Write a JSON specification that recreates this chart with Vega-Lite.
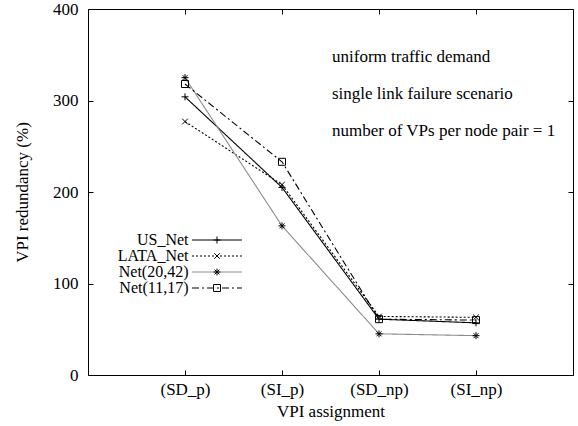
{
  "$schema": "https://vega.github.io/schema/vega-lite/v6.json",
  "width": 485,
  "height": 366,
  "autosize": {"type": "none"},
  "padding": {"left": 88, "top": 9, "right": 5, "bottom": 51},
  "background": "white",
  "config": {
    "view": {"stroke": "black", "strokeWidth": 1},
    "font": "Liberation Serif",
    "axis": {
      "grid": false,
      "domain": false,
      "ticks": true,
      "tickColor": "black",
      "tickSize": -5,
      "tickWidth": 1,
      "labelFont": "Liberation Serif",
      "labelFontSize": 17,
      "labelColor": "black",
      "titleFont": "Liberation Serif",
      "titleFontSize": 17,
      "titleFontWeight": "normal",
      "titleColor": "black"
    },
    "legend": {
      "labelFont": "Liberation Serif",
      "labelFontSize": 16,
      "labelColor": "black",
      "padding": 0,
      "rowPadding": -0.3
    }
  },
  "data": {
    "values": [
      {"net": "US_Net", "cat": "(SD_p)", "value": 304},
      {"net": "US_Net", "cat": "(SI_p)", "value": 205},
      {"net": "US_Net", "cat": "(SD_np)", "value": 61},
      {"net": "US_Net", "cat": "(SI_np)", "value": 57},
      {"net": "LATA_Net", "cat": "(SD_p)", "value": 277},
      {"net": "LATA_Net", "cat": "(SI_p)", "value": 208},
      {"net": "LATA_Net", "cat": "(SD_np)", "value": 64},
      {"net": "LATA_Net", "cat": "(SI_np)", "value": 63},
      {"net": "Net(20,42)", "cat": "(SD_p)", "value": 325},
      {"net": "Net(20,42)", "cat": "(SI_p)", "value": 163},
      {"net": "Net(20,42)", "cat": "(SD_np)", "value": 45},
      {"net": "Net(20,42)", "cat": "(SI_np)", "value": 43},
      {"net": "Net(11,17)", "cat": "(SD_p)", "value": 318},
      {"net": "Net(11,17)", "cat": "(SI_p)", "value": 233},
      {"net": "Net(11,17)", "cat": "(SD_np)", "value": 61},
      {"net": "Net(11,17)", "cat": "(SI_np)", "value": 60}
    ]
  },
  "layer": [
    {
      "mark": {"type": "line", "strokeWidth": 1.1},
      "encoding": {
        "x": {
          "field": "cat", "type": "nominal",
          "sort": ["(SD_p)", "(SI_p)", "(SD_np)", "(SI_np)"],
          "scale": {"type": "point", "padding": 1},
          "axis": {"title": "VPI assignment", "labelAngle": 0, "labelPadding": 11, "titlePadding": 6}
        },
        "y": {
          "field": "value", "type": "quantitative",
          "scale": {"domain": [0, 400], "nice": false},
          "axis": {"values": [0, 100, 200, 300, 400], "title": "VPI redundancy (%)", "labelPadding": 15, "titlePadding": 21}
        },
        "color": {
          "field": "net", "type": "nominal",
          "scale": {"domain": ["US_Net", "LATA_Net", "Net(20,42)", "Net(11,17)"], "range": ["black", "black", "#8c8c8c", "black"]},
          "legend": {"orient": "none", "legendX": 121, "legendY": 223, "title": null, "symbolType": "M-12.5,0L12.5,0", "symbolSize": 16, "symbolStrokeWidth": 1, "labelAlign": "right", "labelOffset": -36.5}
        },
        "strokeDash": {
          "field": "net", "type": "nominal",
          "scale": {"domain": ["US_Net", "LATA_Net", "Net(20,42)", "Net(11,17)"], "range": [[1, 0], [2, 2], [1, 0], [7, 3, 2, 3]]},
          "legend": {"orient": "none", "legendX": 121, "legendY": 223, "title": null, "symbolType": "M-12.5,0L12.5,0", "symbolSize": 16, "symbolStrokeWidth": 1, "labelAlign": "right", "labelOffset": -36.5}
        }
      }
    },
    {
      "mark": {"type": "point", "filled": false, "color": "black", "stroke": "black", "strokeWidth": 1, "size": 49, "opacity": 1},
      "encoding": {
        "x": {"field": "cat", "type": "nominal", "sort": ["(SD_p)", "(SI_p)", "(SD_np)", "(SI_np)"], "axis": null},
        "y": {"field": "value", "type": "quantitative", "axis": null},
        "shape": {
          "field": "net", "type": "nominal",
          "sort": ["US_Net", "LATA_Net", "Net(20,42)", "Net(11,17)"],
          "scale": {"range": ["M-1,0L1,0M0,-1L0,1", "M-0.8,-0.8L0.8,0.8M-0.8,0.8L0.8,-0.8", "M-1,0L1,0M0,-1L0,1M-0.7,-0.7L0.7,0.7M-0.7,0.7L0.7,-0.7", "square"]},
          "legend": {"orient": "none", "legendX": 121, "legendY": 223, "title": null, "labelExpr": "''", "symbolStrokeColor": "black", "symbolStrokeWidth": 1, "symbolSize": 49}
        }
      }
    },
    {
      "mark": {"type": "line", "opacity": 0},
      "encoding": {
        "x": {"field": "cat", "type": "nominal", "sort": ["(SD_p)", "(SI_p)", "(SD_np)", "(SI_np)"], "axis": {"orient": "top", "labels": false, "title": null}},
        "y": {"field": "value", "type": "quantitative", "axis": {"orient": "right", "labels": false, "title": null, "values": [0, 100, 200, 300, 400]}},
        "detail": {"field": "net"}
      }
    },
    {
      "data": {"values": [{}]},
      "mark": {
        "type": "text",
        "text": ["uniform traffic demand", "single link failure scenario", "number of VPs per node pair = 1"],
        "align": "left", "baseline": "middle", "lineHeight": 37, "fontSize": 17, "font": "Liberation Serif", "color": "black", "dx": 50
      },
      "encoding": {
        "x": {"datum": "(SI_p)", "type": "nominal", "axis": null},
        "y": {"datum": 347.5, "type": "quantitative", "axis": null}
      }
    }
  ],
  "resolve": {"axis": {"x": "independent", "y": "independent"}}
}
